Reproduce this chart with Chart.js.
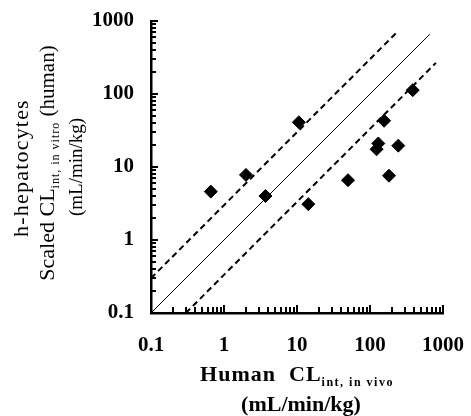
<!DOCTYPE html>
<html>
<head>
<meta charset="utf-8">
<script src="https://cdn.jsdelivr.net/npm/chart.js@4.4.0/dist/chart.umd.min.js"></script>
<style>
  html, body { margin: 0; padding: 0; background: #fff; }
  #wrap { width: 471px; height: 416px; }
</style>
</head>
<body>
<div id="wrap"><canvas id="clChart" width="471" height="416"></canvas></div>
<script>
// Human CLint, in vivo (x) vs h-hepatocytes scaled CLint, in vitro (y), mL/min/kg
const humanInVivo = [0.66, 2.0, 3.7, 10.6, 14.3, 50, 123, 130, 156, 182, 244, 385];
const scaledInVitro = [4.6, 7.8, 4.0, 41, 3.1, 6.6, 17.5, 21, 43, 7.6, 19.6, 113];

// line of unity and the 3-fold lines
const unityX = [0.1, 660];
const unityY = [0.1, 660];
const upperX = [0.1, 240];
const upperY = [0.3, 720];
const lowerX = [0.3, 800];
const lowerY = [0.1, 267];

const tickValues = [0.1, 1, 10, 100, 1000];
const tickLabels = ['0.1', '1', '10', '100', '1000'];

const serif = "'Liberation Serif', 'Times New Roman', serif";

function toPoints(xs, ys) {
  return xs.map((x, i) => ({ x: x, y: ys[i] }));
}

function decadeLabel(value) {
  const i = tickValues.findIndex(t => Math.abs(Math.log10(t) - Math.log10(value)) < 1e-6);
  return i >= 0 ? tickLabels[i] : '';
}

// 1..9 inside each decade, for the little inward tick marks
function minorTicks() {
  const out = [];
  for (let i = 0; i < tickValues.length - 1; i++) {
    for (let k = 1; k < 10; k++) out.push(tickValues[i] * k);
  }
  out.push(tickValues[tickValues.length - 1]);
  return out;
}

// stop tick label padding from shrinking the plot area
function noPadding(s) {
  s.paddingLeft = 0; s.paddingRight = 0; s.paddingTop = 0; s.paddingBottom = 0;
}

// inward tick marks + axis titles with subscripts
const axisDecor = {
  id: 'axisDecor',
  afterDraw(chart) {
    const ctx = chart.ctx;
    const xs = chart.scales.x;
    const ys = chart.scales.y;
    const area = chart.chartArea;
    ctx.save();
    ctx.setLineDash([]);
    ctx.fillStyle = '#000';

    minorTicks().forEach(v => {
      const len = decadeLabel(v) ? 8 : 6;
      const px = Math.round(xs.getPixelForValue(v));
      ctx.fillRect(px - 1, area.bottom - len, 2, len);
      const py = Math.round(ys.getPixelForValue(v));
      ctx.fillRect(area.left - 1, py - 1, len, 2);
    });

    // x title
    ctx.textBaseline = 'alphabetic';
    ctx.textAlign = 'left';
    const cx = (area.left + area.right) / 2;
    ctx.font = 'bold 22px ' + serif;
    ctx.letterSpacing = '1px';
    const main = 'Human  CL';
    const wMain = ctx.measureText(main).width;
    ctx.font = 'bold 12px ' + serif;
    ctx.letterSpacing = '1.5px';
    const sub = 'int, in vivo';
    const wSub = ctx.measureText(sub).width;
    let sx = cx - (wMain + wSub) / 2;
    ctx.font = 'bold 22px ' + serif;
    ctx.letterSpacing = '1px';
    ctx.fillText(main, sx, 381);
    ctx.font = 'bold 12px ' + serif;
    ctx.letterSpacing = '1.5px';
    ctx.fillText(sub, sx + wMain, 386);
    ctx.font = 'bold 22px ' + serif;
    ctx.letterSpacing = '0px';
    ctx.textAlign = 'center';
    ctx.fillText('(mL/min/kg)', cx + 4, 411);

    // y title, rotated
    ctx.save();
    ctx.translate(28, 168);
    ctx.rotate(-Math.PI / 2);
    ctx.font = '22px ' + serif;
    ctx.letterSpacing = '1.2px';
    ctx.fillText('h-hepatocytes', 0, 0);
    ctx.restore();

    ctx.save();
    ctx.translate(54, 163);
    ctx.rotate(-Math.PI / 2);
    ctx.textAlign = 'left';
    const parts = [
      { t: 'Scaled CL', f: '22px ' + serif, ls: '0px', dy: 0 },
      { t: 'int, in vitro', f: '12px ' + serif, ls: '1px', dy: 5 },
      { t: ' (human)', f: '21px ' + serif, ls: '0px', dy: 0 }
    ];
    let total = 0;
    parts.forEach(p => {
      ctx.font = p.f; ctx.letterSpacing = p.ls;
      p.w = ctx.measureText(p.t).width;
      total += p.w;
    });
    let px = -total / 2;
    parts.forEach(p => {
      ctx.font = p.f; ctx.letterSpacing = p.ls;
      ctx.fillText(p.t, px, p.dy);
      px += p.w;
    });
    ctx.restore();

    ctx.save();
    ctx.translate(82, 167);
    ctx.rotate(-Math.PI / 2);
    ctx.textAlign = 'center';
    ctx.font = '19px ' + serif;
    ctx.letterSpacing = '0px';
    ctx.fillText('(mL/min/kg)', 0, 0);
    ctx.restore();

    ctx.restore();
  }
};

const tickFont = { family: serif, size: 21, weight: 'bold' };

new Chart(document.getElementById('clChart').getContext('2d'), {
  type: 'scatter',
  data: {
    datasets: [
      {
        label: 'compounds',
        data: toPoints(humanInVivo, scaledInVitro),
        pointStyle: 'rectRot',
        pointRadius: 6.5,
        pointBackgroundColor: '#000',
        pointBorderColor: '#000',
        pointBorderWidth: 1,
        showLine: false,
        order: 0
      },
      {
        label: 'unity',
        data: toPoints(unityX, unityY),
        showLine: true,
        borderColor: '#000',
        borderWidth: 1,
        pointRadius: 0,
        order: 1
      },
      {
        label: 'upper',
        data: toPoints(upperX, upperY),
        showLine: true,
        borderColor: '#000',
        borderWidth: 2,
        borderDash: [6, 4],
        pointRadius: 0,
        order: 1
      },
      {
        label: 'lower',
        data: toPoints(lowerX, lowerY),
        showLine: true,
        borderColor: '#000',
        borderWidth: 2,
        borderDash: [6, 4],
        pointRadius: 0,
        order: 1
      }
    ]
  },
  options: {
    responsive: false,
    animation: false,
    layout: { padding: { top: 21, right: 28, left: 0, bottom: 0 } },
    plugins: {
      legend: { display: false },
      tooltip: { enabled: false }
    },
    scales: {
      x: {
        type: 'logarithmic',
        min: 0.1,
        max: 1000,
        border: { display: true, color: '#000', width: 2.5 },
        grid: { display: false, drawTicks: false },
        ticks: {
          autoSkip: false,
          maxRotation: 0,
          padding: 20,
          color: '#000',
          font: tickFont,
          callback: (v) => decadeLabel(v)
        },
        afterFit: (s) => { s.height = 103; noPadding(s); }
      },
      y: {
        type: 'logarithmic',
        min: 0.1,
        max: 1000,
        border: { display: true, color: '#000', width: 2.5 },
        grid: { display: false, drawTicks: false },
        ticks: {
          autoSkip: false,
          padding: 17,
          color: '#000',
          font: tickFont,
          callback: (v) => decadeLabel(v)
        },
        afterFit: (s) => { s.width = 151; noPadding(s); }
      }
    }
  },
  plugins: [axisDecor]
});
</script>
</body>
</html>
